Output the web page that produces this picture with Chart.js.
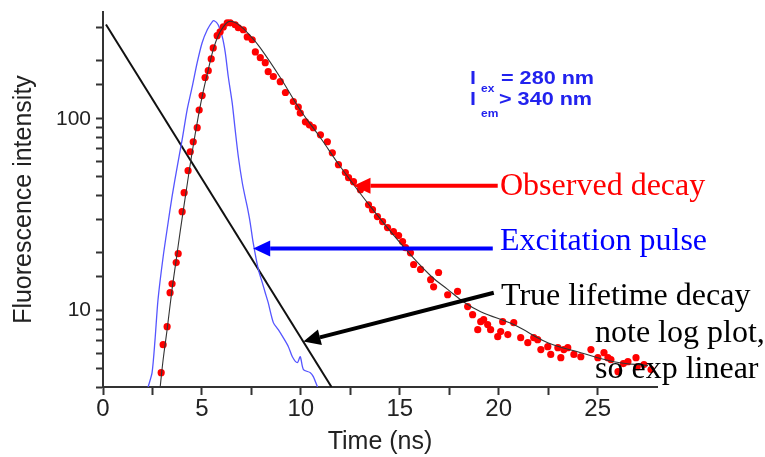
<!DOCTYPE html>
<html>
<head>
<meta charset="utf-8">
<script src="https://cdn.jsdelivr.net/npm/chart.js@4/dist/chart.umd.min.js"></script>
<style>
html, body { margin: 0; padding: 0; background: #fff; }
#wrap { width: 765px; height: 457px; }
</style>
</head>
<body>
<div id="wrap"><canvas id="chart-decay" width="765" height="457"></canvas></div>
<script>
// excitation pulse (blue trace)
const pulseT = [2.28, 2.48, 2.63, 2.78, 3.04, 3.29, 3.49, 3.75, 4.00, 4.25, 4.51, 4.76, 5.01, 5.27, 5.52, 5.62,
  5.82, 6.03, 6.18, 6.33, 6.53, 6.68, 6.84, 7.04, 7.19, 7.29, 7.44, 7.59, 7.85, 8.05, 8.20, 8.35, 8.61, 8.86,
  9.11, 9.37, 9.57, 9.82, 9.97, 10.13, 10.48, 10.63, 10.84];
const pulseY = [4.0, 4.75, 7.06, 11.4, 19.1, 28.7, 39.3, 56.2, 77.8, 111, 147, 196, 249, 291, 320, 324,
  309, 267, 221, 166, 121, 87.7, 63.4, 46.4, 38.8, 34.8, 28.7, 22.6, 16.4, 14.0, 12.4, 11.0, 8.66, 7.96,
  7.23, 6.49, 5.75, 5.36, 5.75, 4.93, 4.75, 4.53, 4.0];

// observed decay (red points)
const obsT = [2.94, 3.04, 3.24, 3.39, 3.49, 3.70, 3.80, 4.00, 4.10, 4.30, 4.41, 4.56, 4.76, 4.86, 5.01, 5.16,
  5.32, 5.47, 5.57, 5.77, 5.92, 6.08, 6.28, 6.43, 6.68, 6.84, 7.09, 7.29, 7.54, 7.70, 7.95, 8.20, 8.35, 8.61,
  8.96, 9.22, 9.62, 9.87, 9.97, 10.23, 10.43, 10.63, 10.99, 11.34, 11.59, 11.90, 12.25, 12.41, 12.66, 13.01,
  13.42, 13.62, 13.87, 14.13, 14.38, 14.68, 14.94, 15.14, 15.29, 15.54, 15.70, 16.05, 16.56, 16.71, 16.96,
  17.42, 17.92, 18.43, 18.68, 18.94, 19.09, 19.24, 19.44, 19.59, 19.95, 20.10, 20.20, 20.46, 20.76, 21.11,
  21.47, 21.77, 21.97, 22.13, 22.48, 22.63, 22.99, 23.14, 23.29, 23.49, 23.80, 24.15, 24.66, 25.01, 25.32,
  25.52, 25.67, 26.03, 26.30, 26.53, 26.94, 27.00, 27.34, 27.70];
const obsY = [4.75, 6.65, 8.25, 12.4, 13.8, 17.8, 19.8, 32.8, 41.2, 53.6, 67.3, 75.9, 89.8, 111, 132, 164,
  178, 205, 234, 271, 284, 301, 316, 316, 309, 298, 291, 267, 258, 223, 208, 196, 176, 166,
  156, 137, 123, 115, 107, 96.4, 93.0, 89.8, 82.5, 75.9, 66.5, 57.6, 52.4, 49.3, 47.0, 42.7,
  35.6, 33.6, 30.9, 29.1, 27.1, 25.8, 24.6, 22.9, 21.3, 20.0, 17.4, 16.4, 14.5, 13.3, 15.8,
  12.1, 12.6, 10.5, 9.53, 7.96, 8.76, 8.98, 8.46, 7.96, 7.32, 7.78, 8.76, 7.50, 8.66, 7.23,
  6.81, 7.23, 7.06, 6.27, 6.49, 5.91, 6.41, 5.69, 6.27, 6.41, 5.91, 5.75, 6.27, 5.69, 6.04,
  5.69, 5.56, 4.81, 5.30, 5.42, 5.69, 5.10, 5.24, 4.93];

// fitted curve through the observed decay
const fitT = [2.89, 3.04, 3.24, 3.49, 3.70, 3.90, 4.20, 4.51, 4.81, 5.06, 5.32, 5.57, 5.82, 6.08, 6.33, 6.58,
  6.94, 7.44, 7.95, 8.96, 9.97, 10.99, 12.00, 13.52, 15.19, 16.56, 17.42, 18.23, 19.09, 20.76, 22.48, 24.15,
  25.82, 27.54];
const fitY = [4.0, 5.56, 7.96, 12.9, 18.4, 25.8, 41.7, 67.3, 102, 138, 180, 229, 271, 301, 320, 320,
  305, 271, 234, 164, 111, 79.6, 56.2, 34.8, 21.5, 15.2, 12.9, 11.1, 9.88, 8.46, 6.81, 6.04,
  5.42, 5.17];

// true lifetime decay (straight line on log axis)
const trueT = [0.15, 11.55];
const trueY = [310, 4];

const xTicksLabelled = [0, 5, 10, 15, 20, 25];
const yTicksLabelled = [10, 100];

function pts(xs, ys) {
  return xs.map((x, i) => ({ x: x, y: ys[i] }));
}

// arrows: tails and tips in data units
const arrows = [
  { color: '#ff0000', from: [19.95, 44.8], to: [12.66, 44.8] },
  { color: '#0000ff', from: [19.70, 21.05], to: [7.59, 21.05] },
  { color: '#000000', from: [19.75, 12.4], to: [10.13, 6.9] }
];

const notes = [
  { text: 'Observed decay', color: '#ff0000', x: 500, y: 195 },
  { text: 'Excitation pulse', color: '#0000ff', x: 500, y: 250 },
  { text: 'True lifetime decay', color: '#000000', x: 501, y: 305 },
  { text: 'note log plot,', color: '#000000', x: 595, y: 342 },
  { text: 'so exp linear', color: '#000000', x: 595, y: 378 }
];

const waveNote = [
  { text: 'l', x: 470, y: 84, size: 18 },
  { text: 'ex', x: 481, y: 92, size: 10 },
  { text: '= 280 nm', x: 501, y: 84, size: 18 },
  { text: 'l', x: 470, y: 105, size: 18 },
  { text: 'em', x: 481, y: 117, size: 10 },
  { text: '> 340 nm', x: 499, y: 105, size: 18 }
];

const annotate = {
  id: 'annotate',
  afterDatasetsDraw(chart) {
    const ctx = chart.ctx;
    const xs = chart.scales.x, ys = chart.scales.y;
    ctx.save();
    arrows.forEach(a => {
      const x0 = xs.getPixelForValue(a.from[0]), y0 = ys.getPixelForValue(a.from[1]);
      const x1 = xs.getPixelForValue(a.to[0]), y1 = ys.getPixelForValue(a.to[1]);
      const ang = Math.atan2(y1 - y0, x1 - x0);
      const hl = 17, hw = 8;
      const bx = x1 - hl * Math.cos(ang), by = y1 - hl * Math.sin(ang);
      ctx.strokeStyle = a.color;
      ctx.fillStyle = a.color;
      ctx.lineWidth = 4;
      ctx.beginPath();
      ctx.moveTo(x0, y0);
      ctx.lineTo(bx, by);
      ctx.stroke();
      ctx.beginPath();
      ctx.moveTo(x1, y1);
      ctx.lineTo(bx + hw * Math.sin(ang), by - hw * Math.cos(ang));
      ctx.lineTo(bx - hw * Math.sin(ang), by + hw * Math.cos(ang));
      ctx.closePath();
      ctx.fill();
    });
    ctx.textBaseline = 'alphabetic';
    ctx.textAlign = 'left';
    ctx.font = '32px "Liberation Serif", "Times New Roman", serif';
    notes.forEach(n => {
      ctx.fillStyle = n.color;
      ctx.fillText(n.text, n.x, n.y);
    });
    ctx.fillStyle = '#2222ee';
    waveNote.forEach(w => {
      ctx.font = 'bold ' + w.size + 'px "Liberation Sans", Arial, sans-serif';
      ctx.save();
      ctx.translate(w.x, w.y);
      ctx.scale(1.2, 1);
      ctx.fillText(w.text, 0, 0);
      ctx.restore();
    });
    ctx.restore();
  }
};

const axisFont = '"Liberation Sans", Arial, sans-serif';

new Chart(document.getElementById('chart-decay').getContext('2d'), {
  type: 'scatter',
  data: {
    datasets: [
      { type: 'line', data: pts(fitT, fitY), borderColor: '#333', borderWidth: 1.1, pointRadius: 0, tension: 0.4, fill: false },
      { data: pts(obsT, obsY), backgroundColor: '#ff0000', borderWidth: 0, pointRadius: 3.6 },
      { type: 'line', data: pts(pulseT, pulseY), borderColor: '#5555ff', borderWidth: 1.3, pointRadius: 0, tension: 0.25, fill: false },
      { type: 'line', data: pts(trueT, trueY), borderColor: '#111', borderWidth: 2, pointRadius: 0, fill: false }
    ]
  },
  options: {
    responsive: false,
    animation: false,
    layout: { padding: { left: 0, right: 108, top: 12, bottom: 0 } },
    plugins: { legend: { display: false }, tooltip: { enabled: false } },
    scales: {
      x: {
        type: 'linear', min: 0, max: 28,
        border: { display: true, color: '#333', width: 2 },
        grid: {
          drawOnChartArea: false, drawTicks: true, tickLength: 8, tickWidth: 2,
          tickColor: c => (c.tick && c.tick.value === 28) ? 'rgba(0,0,0,0)' : '#333'
        },
        ticks: {
          stepSize: 2.5, autoSkip: false, maxRotation: 0, padding: 0, color: '#222',
          font: { family: axisFont, size: 24 },
          callback: v => xTicksLabelled.includes(v) ? String(v) : ''
        },
        title: { display: true, text: 'Time (ns)', color: '#222', font: { family: axisFont, size: 25 }, padding: { top: 0, bottom: 0 } },
        afterFit: s => { s.height = 70; s.paddingLeft = 0; s.paddingRight = 0; }
      },
      y: {
        type: 'logarithmic', min: 4, max: 360,
        border: { display: true, color: '#333', width: 2 },
        grid: {
          drawOnChartArea: false, drawTicks: true, tickLength: 7, tickWidth: 2,
          tickColor: c => (c.tick && c.tick.value === 360) ? 'rgba(0,0,0,0)' : '#333'
        },
        ticks: {
          autoSkip: false, padding: 5, color: '#222',
          font: { family: axisFont, size: 21 },
          callback: v => yTicksLabelled.includes(v) ? String(v) : ''
        },
        title: { display: true, text: 'Fluorescence intensity', color: '#222', font: { family: axisFont, size: 25 }, padding: { top: 9, bottom: 0 } },
        afterFit: s => { s.width = 103; s.paddingTop = 0; s.paddingBottom = 0; }
      }
    }
  },
  plugins: [annotate]
});
</script>
</body>
</html>
